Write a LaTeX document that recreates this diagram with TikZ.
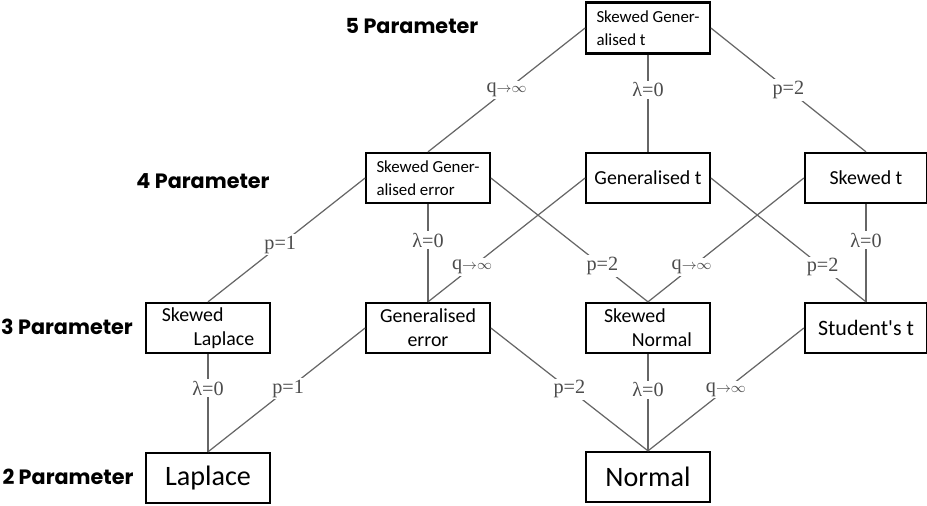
\documentclass[tikz,border=0pt]{standalone}
\usepackage{fontspec}
\usetikzlibrary{positioning}
\newfontfamily\boxfont{Carlito}
\newfontfamily\lblfont{Liberation Serif}
\newfontfamily\levelfont{Poppins}

\tikzset{
  dist/.style={draw, line width=1.3pt, inner sep=2pt, minimum width=2.47cm, minimum height=1cm,
    font=\boxfont\fontsize{11.3}{13.5}\selectfont},
  small/.style={font=\boxfont\fontsize{9.6}{13}\selectfont},
  big/.style={font=\boxfont\fontsize{16}{18}\selectfont},
  link/.style={draw=black!60, line width=0.7pt},
  lbl/.style={fill=white, inner sep=1pt, text=black!70, font=\lblfont\fontsize{11.5}{13}\selectfont},
  level/.style={font=\levelfont\bfseries\fontsize{11.8}{14}\selectfont},
}
\newcommand{\qinf}{q$\scriptstyle\to\infty$}

\begin{document}
\begin{tikzpicture}[x=0.02cm, y=-0.02cm]
  \useasboundingbox (0,0) rectangle (927,506);

  % levels
  \node[level] (l5) at (412,26) {5 Parameter};
  \node[level] (l4) at (203,181) {4 Parameter};
  \node[level] (l3) at (67,327) {3 Parameter};
  \node[level] (l2) at (68,477) {2 Parameter};

  % distributions
  \node[dist, small, minimum height=1.02cm, align=left] (sgt) at (648,28) {Skewed Gener-\\alised t};
  \node[dist, small, align=left] (sge) at (428,178) {Skewed Gener-\\alised error};
  \node[dist] (gt) at (648,178) {Generalised t};
  \node[dist, minimum width=2.44cm] (skt) at (866,178) {Skewed t};
  \node[dist, align=left] (sl) at (208,328) {Skewed\\\hspace*{1.6em}Laplace};
  \node[dist, align=center] (ge) at (428,328) {Generalised\\error};
  \node[dist, align=left] (sn) at (648,328) {Skewed\\\hspace*{1.4em}Normal};
  \node[dist, minimum width=2.44cm, font=\boxfont\fontsize{12.5}{14}\selectfont] (stt) at (866,328) {Student's t};
  \node[dist, big] (lap) at (208,478) {Laplace};
  \node[dist, big] (nor) at (648,477) {Normal};

  % 5 -> 4
  \draw[link] (sgt.west) -- node[lbl] {\qinf} (sge.north);
  \draw[link] (sgt.south) -- node[lbl, pos=0.36] {λ=0} (gt.north);
  \draw[link] (sgt.east) -- node[lbl] {p=2} (skt.north);

  % 4 -> 3
  \draw[link] (sge.west) -- node[lbl, pos=0.54] {p=1} (sl.north);
  \draw[link] (sge.south) -- node[lbl, pos=0.37] {λ=0} (ge.north);
  \draw[link] (sge.east) -- node[lbl, pos=0.71] {p=2} (sn.north);
  \draw[link] (gt.west) -- node[lbl, pos=0.72] {\qinf} (ge.north);
  \draw[link] (gt.east) -- node[lbl, pos=0.72] {p=2} (stt.north);
  \draw[link] (skt.west) -- node[lbl, pos=0.72] {\qinf} (sn.north);
  \draw[link] (skt.south) -- node[lbl, pos=0.37] {λ=0} (stt.north);

  % 3 -> 2
  \draw[link] (sl.south) -- node[lbl, pos=0.35] {λ=0} (lap.north);
  \draw[link] (ge.west) -- node[lbl, pos=0.49] {p=1} (lap.north);
  \draw[link] (ge.east) -- node[lbl, pos=0.5] {p=2} (nor.north);
  \draw[link] (sn.south) -- node[lbl, pos=0.37] {λ=0} (nor.north);
  \draw[link] (stt.west) -- node[lbl, pos=0.5] {\qinf} (nor.north);
\end{tikzpicture}
\end{document}
